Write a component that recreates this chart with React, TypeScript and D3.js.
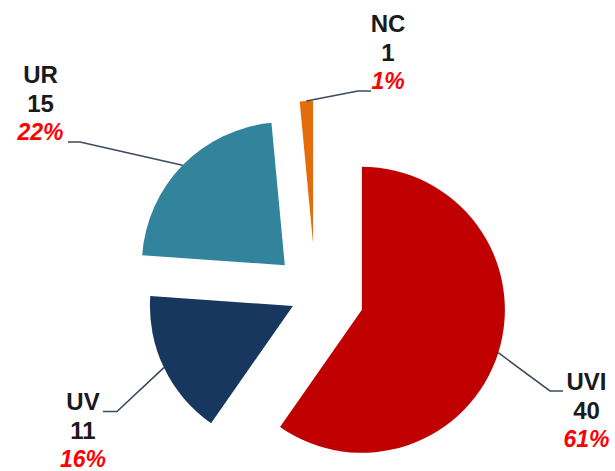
import React from "react";
import * as d3 from "d3";

// ---- data ----
const categories = ["UVI", "UV", "UR", "NC"];
const counts = [40, 11, 15, 1];
const percentLabels = ["61%", "16%", "22%", "1%"];
const sliceColors = ["#C00000", "#17375E", "#31849B", "#E46C0A"];
const explode = [0.34, 0.175, 0.3, 0.36]; // fraction of radius

// ---- layout ----
const W = 615;
const H = 471;
const CX = 315.5;
const CY = 295.2;
const R = 143;

// label annotation layout (elbow of leader, end of leader, text centre, first baseline)
const labelLayout = [
  { elbow: [550, 391], end: [563, 391], tx: 586.5, ty: 390 },
  { elbow: [117, 411.5], end: [103, 411.5], tx: 83, ty: 410 },
  { elbow: [80, 142], end: [68, 142], tx: 40.5, ty: 83 },
  { elbow: [358, 91], end: [371, 91], tx: 388, ty: 32 },
];

export default function App() {
  const pie = d3
    .pie<number>()
    .sort(null)
    .value((d) => d)
    .startAngle(0)
    .endAngle(2 * Math.PI);
  const arcs = pie(counts);
  const arc = d3.arc<d3.PieArcDatum<number>>().innerRadius(0).outerRadius(R);
  const edgeArc = d3.arc<d3.PieArcDatum<number>>().innerRadius(R).outerRadius(R);

  const font = "'Liberation Sans', Arial, sans-serif";
  const lineGap = 28.5;

  return (
    <svg
      width={W}
      height={H}
      style={{ position: "absolute", left: 0, top: 0, background: "#fff" }}
    >
      <g transform={`translate(${CX},${CY})`}>
        {arcs.map((a, i) => {
          const mid = (a.startAngle + a.endAngle) / 2;
          const off = explode[i] * R;
          const dx = Math.sin(mid) * off;
          const dy = -Math.cos(mid) * off;
          return (
            <path
              key={categories[i]}
              d={arc(a) || ""}
              transform={`translate(${dx},${dy})`}
              fill={sliceColors[i]}
            />
          );
        })}
      </g>
      {arcs.map((a, i) => {
        const mid = (a.startAngle + a.endAngle) / 2;
        const off = explode[i] * R;
        const [mx, my] = edgeArc.centroid(a);
        const px = CX + mx + Math.sin(mid) * off;
        const py = CY + my - Math.cos(mid) * off;
        const L = labelLayout[i];
        return (
          <g key={"lab" + i}>
            <polyline
              points={`${px},${py} ${L.elbow[0]},${L.elbow[1]} ${L.end[0]},${L.end[1]}`}
              fill="none"
              stroke="#3C4A5C"
              strokeWidth={1.6}
            />
            <text
              x={L.tx}
              y={L.ty}
              textAnchor="middle"
              fontFamily={font}
              fontWeight="bold"
              fontSize={24}
              fill="#1A1A1A"
            >
              {categories[i]}
            </text>
            <text
              x={L.tx}
              y={L.ty + lineGap}
              textAnchor="middle"
              fontFamily={font}
              fontWeight="bold"
              fontSize={24}
              fill="#1A1A1A"
            >
              {counts[i]}
            </text>
            <text
              x={L.tx}
              y={L.ty + 2 * lineGap}
              textAnchor="middle"
              fontFamily={font}
              fontWeight="bold"
              fontStyle="italic"
              fontSize={23}
              fill="#FF0000"
            >
              {percentLabels[i]}
            </text>
          </g>
        );
      })}
    </svg>
  );
}
